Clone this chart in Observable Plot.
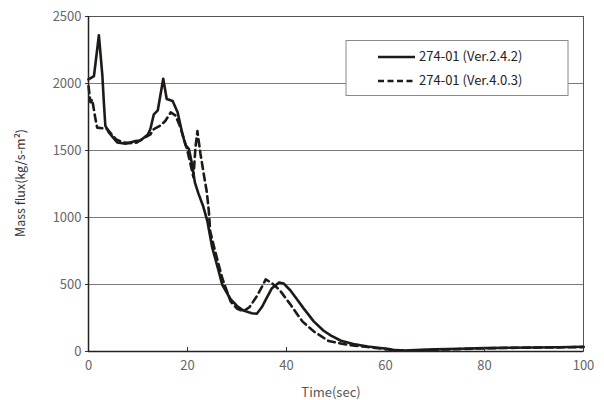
<!DOCTYPE html>
<html>
<head>
<meta charset="utf-8">
<script src="https://cdn.jsdelivr.net/npm/d3@7"></script>
<script src="https://cdn.jsdelivr.net/npm/@observablehq/plot@0.6"></script>
<style>
  body { margin: 0; background: #fff; }
  #chart { width: 604px; height: 400px; }
</style>
</head>
<body>
<div id="chart"></div>
<script>
// Series A: 274-01 (Ver.2.4.2) — solid
const timeA = [0, 1.1, 2.1, 2.8, 3.1, 3.4, 4.1, 5.8, 7.5, 9.5, 10.5, 12, 12.5, 13.2, 14, 15.1, 15.8, 17, 18, 19, 19.6, 20.3, 20.8, 21.5, 22.2, 23.2, 24, 25, 26.3, 27, 28.7, 30, 31.3, 33, 34, 35, 36, 37, 38.5, 39.4, 40.8, 42, 43.5, 45.5, 47.5, 49, 51, 53.5, 56.4, 58.5, 60.4, 62, 64, 66, 70, 75, 80, 85, 90, 95, 100];
const fluxA = [2030, 2055, 2360, 2060, 1860, 1685, 1635, 1560, 1550, 1570, 1575, 1620, 1660, 1770, 1800, 2035, 1885, 1870, 1785, 1620, 1540, 1510, 1420, 1260, 1180, 1080, 975, 775, 600, 500, 390, 340, 305, 285, 282, 330, 400, 470, 515, 508, 455, 395, 320, 225, 155, 118, 80, 56, 37, 28, 20, 10, 8, 10, 16, 20, 25, 28, 30, 32, 35];

// Series B: 274-01 (Ver.4.0.3) — dashed
const timeB = [0, 0.4, 0.75, 1.4, 1.75, 3, 3.8, 5.5, 7, 8.5, 9.8, 11, 12.5, 13.2, 14.5, 15.5, 16.6, 17.6, 18.5, 19.9, 20.6, 21.2, 21.6, 22, 22.6, 23.3, 23.9, 24.3, 24.6, 25.5, 27, 28.7, 30, 31.3, 32.5, 34, 35, 35.8, 37, 37.8, 38.8, 40.8, 43.2, 45.5, 48.5, 52.3, 56, 60, 62, 66, 70, 75, 80, 85, 90, 95, 100];
const fluxB = [1980, 1860, 1880, 1736, 1671, 1665, 1660, 1585, 1560, 1555, 1560, 1590, 1620, 1660, 1685, 1720, 1784, 1760, 1680, 1510, 1400, 1300, 1520, 1645, 1480, 1320, 1190, 1050, 895, 760, 550, 374, 320, 300, 330, 412, 480, 538, 511, 486, 450, 350, 225, 150, 78, 50, 35, 18, 8, 8, 13, 18, 24, 27, 29, 31, 33];

const xTicks = [0, 20, 40, 60, 80, 100];
const yTicks = [0, 500, 1000, 1500, 2000, 2500];
const gridY = [500, 1000, 1500, 2000];
const legendLabels = ["274-01 (Ver.2.4.2)", "274-01 (Ver.4.0.3)"];

const dataA = timeA.map((t, i) => ({t, v: fluxA[i]}));
const dataB = timeB.map((t, i) => ({t, v: fluxB[i]}));

const FONT = "'Noto Sans CJK JP', 'Noto Sans', sans-serif";
const lineColor = "#1e1a17";

const chart = Plot.plot({
  width: 604,
  height: 400,
  marginLeft: 88,
  marginRight: 21,
  marginTop: 16,
  marginBottom: 49,
  style: { fontFamily: FONT, fontSize: "13px", background: "#fff", overflow: "visible" },
  x: { domain: [0, 100], label: null },
  y: { domain: [0, 2500], label: null },
  marks: [
    Plot.ruleY(gridY, { stroke: "#7a7a7a", strokeWidth: 1 }),
    Plot.frame({ stroke: "#555", strokeWidth: 1 }),
    Plot.line(dataB, { x: "t", y: "v", stroke: lineColor, strokeWidth: 2.6, strokeDasharray: "7,4.5", curve: "linear" }),
    Plot.line(dataA, { x: "t", y: "v", stroke: lineColor, strokeWidth: 2.6, curve: "linear" }),
    Plot.axisY({ ticks: yTicks, tickSize: 3, tickPadding: 4, stroke: "#333", fill: "#666", fontSize: 13, tickFormat: d => String(d) }),
    Plot.axisX({ ticks: xTicks, tickSize: 0, tickPadding: 9, fill: "#666", fontSize: 13, tickFormat: d => String(d) }),
    Plot.axisX({ ticks: xTicks, tickSize: 4, dy: -4, text: null, stroke: "#333" }),
    Plot.ruleX([0], { stroke: "#222", strokeWidth: 1.5 }),
    Plot.ruleY([0], { stroke: "#222", strokeWidth: 1.5 })
  ]
});

document.getElementById("chart").appendChild(chart);

// Titles and legend
const svg = d3.select(chart);
svg.append("text")
  .attr("x", 331).attr("y", 397)
  .attr("text-anchor", "middle")
  .attr("fill", "#555").attr("font-size", 13).attr("font-family", FONT)
  .text("Time(sec)");
svg.append("text")
  .attr("transform", "translate(22,183) rotate(-90)")
  .attr("text-anchor", "middle").attr("dominant-baseline", "middle")
  .attr("fill", "#333").attr("font-size", 12.5).attr("font-family", FONT)
  .text("Mass flux(kg/s-m²)");

const lg = svg.append("g");
lg.append("rect")
  .attr("x", 346).attr("y", 40.5).attr("width", 222).attr("height", 55)
  .attr("fill", "#fff").attr("stroke", "#8a8a8a").attr("stroke-width", 1);
[0, 1].forEach(i => {
  const y = 57 + i * 24;
  lg.append("line")
    .attr("x1", 378).attr("x2", 415).attr("y1", y).attr("y2", y)
    .attr("stroke", lineColor).attr("stroke-width", 2.4)
    .attr("stroke-dasharray", i === 1 ? "6,3.5" : null);
  lg.append("text")
    .attr("x", 419).attr("y", y).attr("dominant-baseline", "middle")
    .attr("text-anchor", "start")
    .attr("fill", "#222").attr("font-size", 13).attr("font-family", FONT)
    .text(legendLabels[i]);
});
</script>
</body>
</html>
